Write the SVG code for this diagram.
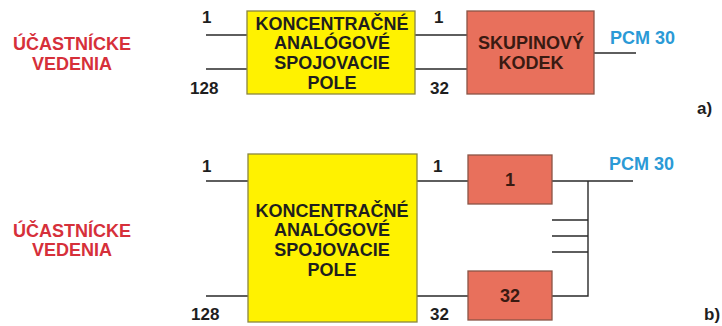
<svg xmlns="http://www.w3.org/2000/svg" width="722" height="326" viewBox="0 0 722 326">
<style>
text{font-family:"Liberation Sans",Arial,sans-serif;font-weight:bold;font-size:18px}
.lbl{fill:#1e1e1e;font-size:17px}
.red{fill:#D6303A;text-anchor:middle}
.blue{fill:#2B9AD6}
.yb{fill:#FFF200;stroke:#8A8640;stroke-width:1.3}
.rb{fill:#E8705C;stroke:#8A5446;stroke-width:1.3}
.yt{fill:#1e1e1e;text-anchor:middle}
.rt{fill:#3A1A12;text-anchor:middle}
.ln{stroke:#2a2a2a;stroke-width:1.4;fill:none}
</style>
<rect width="722" height="326" fill="#ffffff"/>
<g id="labels">
<text class="red" x="72" y="50">ÚČASTNÍCKE</text>
<text class="red" x="72" y="70">VEDENIA</text>
<text class="red" x="72" y="237">ÚČASTNÍCKE</text>
<text class="red" x="72" y="256">VEDENIA</text>
<text class="blue" x="610" y="44">PCM 30</text>
<text class="blue" x="609" y="170">PCM 30</text>
<text class="lbl" x="697" y="114">a)</text>
<text class="lbl" x="704" y="320">b)</text>
<text class="lbl" x="202" y="23">1</text>
<text class="lbl" x="190" y="94">128</text>
<text class="lbl" x="434" y="23">1</text>
<text class="lbl" x="430" y="94">32</text>
<text class="lbl" x="202" y="172">1</text>
<text class="lbl" x="191" y="320">128</text>
<text class="lbl" x="433" y="172">1</text>
<text class="lbl" x="430" y="320">32</text>
</g>
<g id="connectors">
<path class="ln" d="M206 35H247M206 69H247M415 35H467M415 69H467M594 53H636"/>
<path class="ln" d="M206 181H248M206 296H248M417 181H468M417 296H468M552 181H633M552 296H588V181M552 220H588M552 236H588M552 252H588"/>
</g>
<g id="concentrator-a">
<rect class="yb" x="247" y="11" width="168" height="83"/>
<text class="yt" x="332" y="30">KONCENTRAČNÉ</text>
<text class="yt" x="332" y="49">ANALÓGOVÉ</text>
<text class="yt" x="332" y="69">SPOJOVACIE</text>
<text class="yt" x="332" y="89">POLE</text>
</g>
<g id="codec-a">
<rect class="rb" x="467" y="11" width="127" height="83"/>
<text class="rt" x="531" y="49">SKUPINOVÝ</text>
<text class="rt" x="531" y="69">KODEK</text>
</g>
<g id="concentrator-b">
<rect class="yb" x="248" y="154" width="169" height="168"/>
<text class="yt" x="332" y="217">KONCENTRAČNÉ</text>
<text class="yt" x="332" y="236">ANALÓGOVÉ</text>
<text class="yt" x="332" y="256">SPOJOVACIE</text>
<text class="yt" x="332" y="276">POLE</text>
</g>
<g id="codec-b1">
<rect class="rb" x="468" y="155" width="84" height="49"/>
<text class="rt" x="510" y="186">1</text>
</g>
<g id="codec-b32">
<rect class="rb" x="468" y="271" width="84" height="49"/>
<text class="rt" x="510" y="302">32</text>
</g>
</svg>
